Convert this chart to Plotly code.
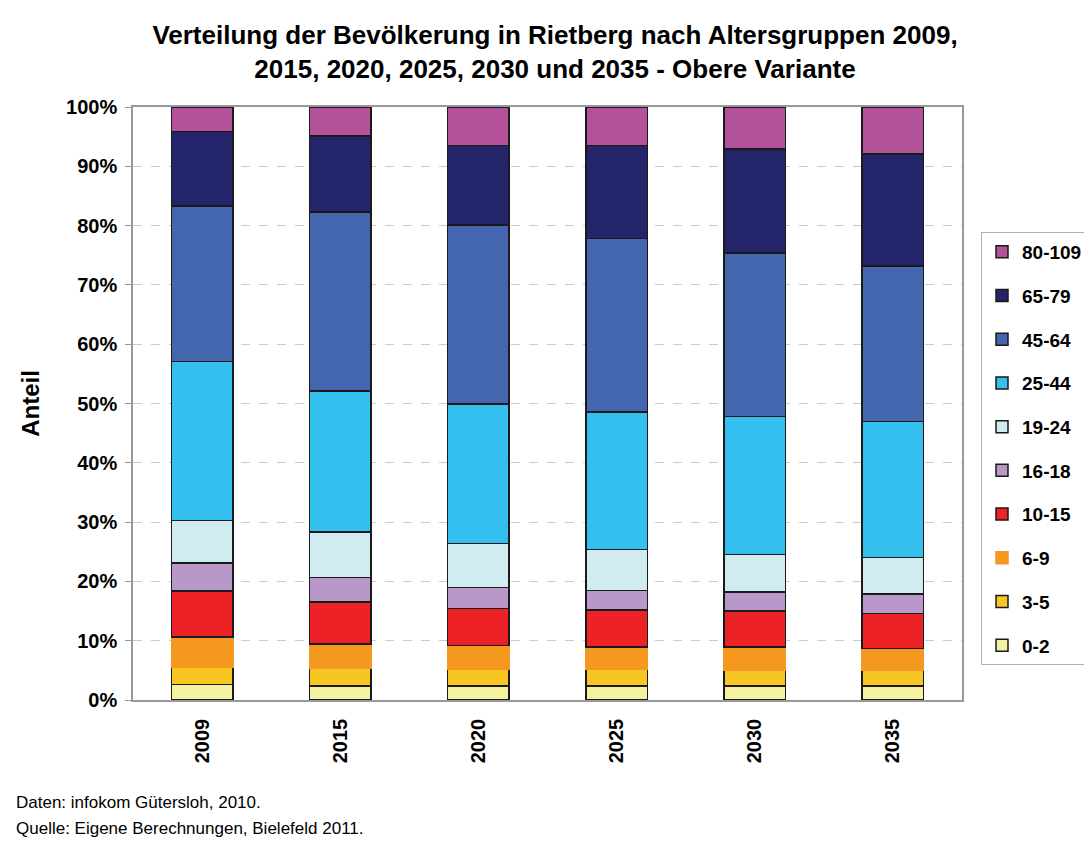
import plotly.graph_objects as go

years = ["2009", "2015", "2020", "2025", "2030", "2035"]
groups = ["0-2", "3-5", "6-9", "10-15", "16-18", "19-24", "25-44", "45-64", "65-79", "80-109"]
share_0_2 = [2.65, 2.36, 2.36, 2.36, 2.36, 2.36]
share_3_5 = [2.95, 2.99, 2.84, 2.84, 2.70, 2.70]
share_6_9 = [5.0, 4.1, 4.0, 3.7, 3.84, 3.64]
share_10_15 = [7.8, 7.05, 6.2, 6.3, 6.1, 5.9]
share_16_18 = [4.7, 4.2, 3.6, 3.3, 3.2, 3.3]
share_19_24 = [7.2, 7.6, 7.4, 6.9, 6.3, 6.1]
share_25_44 = [26.8, 23.8, 23.5, 23.2, 23.3, 23.0]
share_45_64 = [26.2, 30.2, 30.2, 29.2, 27.6, 26.2]
share_65_79 = [12.6, 12.8, 13.4, 15.7, 17.5, 18.9]
share_80_109 = [4.1, 4.9, 6.5, 6.5, 7.1, 7.9]
series = [share_0_2, share_3_5, share_6_9, share_10_15, share_16_18,
          share_19_24, share_25_44, share_45_64, share_65_79, share_80_109]
colors = ["#F4F2A0", "#F7C622", "#F4981F", "#EC2227", "#B898C8",
          "#D0ECF0", "#33C0EE", "#4466AF", "#24246A", "#B3519B"]
ytick_vals = [0, 10, 20, 30, 40, 50, 60, 70, 80, 90, 100]
ytick_text = [f"{v}%" for v in ytick_vals]

FONT = "Liberation Sans, Arial, sans-serif"

# page has an 8px body margin; figure coordinates below are page - 8
W, H = 1084, 835
PL, PR, PT, PB = 125, 954, 99, 692
PW, PH = PR - PL, PB - PT

fig = go.Figure()
n = len(groups)
for i, (g, vals, c) in enumerate(zip(groups, series, colors)):
    edge = "#1a1a1a" if g != "6-9" else c
    fig.add_trace(go.Bar(
        x=years, y=vals, name=g, legendgroup=g, legendrank=n - i,
        marker=dict(color=c, line=dict(color=edge, width=1.5)),
    ))

fig.update_layout(
    barmode="stack",
    barnorm="percent",
    bargap=0.555,
    width=W, height=H,
    margin=dict(l=PL, r=W - PR, t=PT, b=H - PB, autoexpand=False),
    paper_bgcolor="white", plot_bgcolor="white",
    font=dict(family=FONT, color="black"),
    title=dict(
        text="<b>Verteilung der Bevölkerung in Rietberg nach Altersgruppen 2009,<br>2015, 2020, 2025, 2030 und 2035 - Obere Variante</b>",
        x=547 / W, xanchor="center", xref="container",
        y=1 - 36 / H, yanchor="middle", yref="container",
        font=dict(size=26, family=FONT, color="black"),
    ),
    legend=dict(
        x=(973 - PL) / PW, xanchor="left",
        y=(PB - 224) / PH, yanchor="top",
        traceorder="grouped",
        tracegroupgap=16,
        bordercolor="#b0b0b0", borderwidth=1, bgcolor="white",
        font=dict(size=19, family=FONT, color="black", weight="bold"),
    ),
    xaxis=dict(
        tickangle=-90,
        tickfont=dict(size=20, family=FONT, color="black", weight="bold"),
        showline=True, linecolor="#999999", linewidth=1.5, mirror=True,
        ticks="", ticklabelstandoff=9,
    ),
    yaxis=dict(
        range=[0, 100],
        tickvals=ytick_vals, ticktext=ytick_text,
        tickfont=dict(size=20, family=FONT, color="black", weight="bold"),
        showgrid=True, gridcolor="#cccccc", griddash="dash", gridwidth=1,
        showline=True, linecolor="#999999", linewidth=1.5, mirror=True,
        ticks="outside", ticklen=6, tickcolor="#999999", ticklabelstandoff=4,
        title=dict(text="<b>Anteil</b>", font=dict(size=24, family=FONT, color="black"), standoff=20),
        zeroline=False,
    ),
    annotations=[
        dict(text="Daten: infokom Gütersloh, 2010.", xref="paper", yref="paper",
             x=(6 - PL) / PW, y=(PB - 794) / PH, xanchor="left", yanchor="middle",
             showarrow=False, font=dict(size=17, family=FONT, color="black")),
        dict(text="Quelle: Eigene Berechnungen, Bielefeld 2011.", xref="paper", yref="paper",
             x=(6 - PL) / PW, y=(PB - 820) / PH, xanchor="left", yanchor="middle",
             showarrow=False, font=dict(size=17, family=FONT, color="black")),
    ],
)

fig.write_html("out.html")
